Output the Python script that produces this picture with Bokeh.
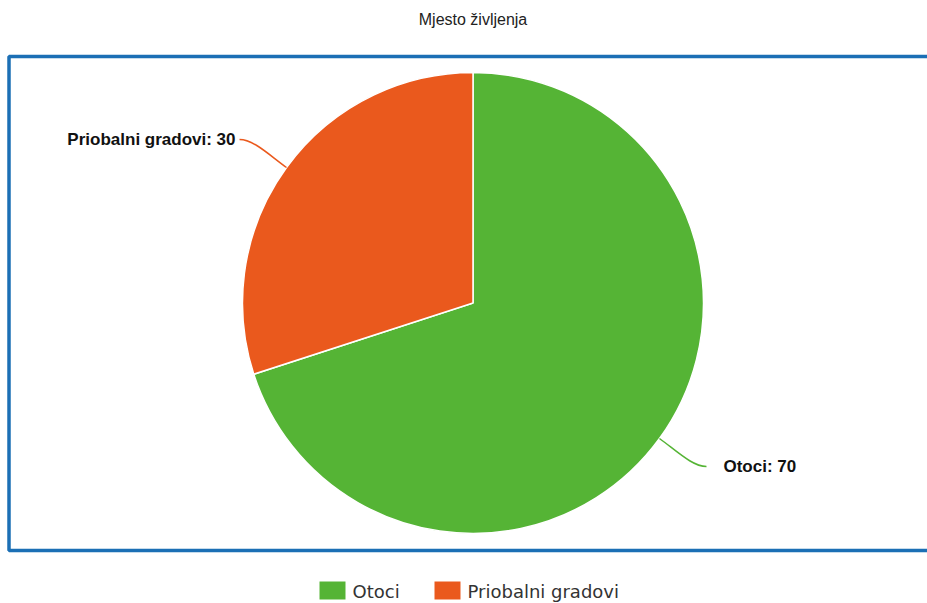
import math
from bokeh.plotting import figure
from bokeh.models import Range1d
from bokeh.core.properties import value
from bokeh.embed import file_html
from bokeh.resources import INLINE

# ---- data ----
title_text = "Mjesto življenja"
categories = ["Otoci", "Priobalni gradovi"]
values = [70, 30]
colors = ["#55b435", "#ea591d"]

# ---- layout (page pixel coordinates; data y = -screen y) ----
W, H = 927, 603
OX, OY = 0, 0
TB = 7  # baseline correction (px)
p = figure(width=W, height=H, output_backend="svg", toolbar_location=None,
           x_range=Range1d(OX, OX + W), y_range=Range1d(-(OY + H), -OY),
           min_border=0, min_border_left=0, min_border_right=0,
           min_border_top=0, min_border_bottom=0)
p.axis.visible = False
p.grid.visible = False
p.outline_line_color = None
p.background_fill_color = "white"
p.border_fill_color = "white"

# frame box
p.quad(left=8.5, right=1000, top=-56, bottom=-550, fill_color=None,
       line_color="#1b6fb5", line_width=3.5)

# title
p.text(x=[472.5], y=[-26 + TB], text=[title_text], text_align="center",
       text_baseline="alphabetic", text_font=value("Liberation Sans"),
       text_font_size="16px", text_color="#222222")

# pie
cx, cy, r = 472.5, -302.5, 230.5
total = sum(values)
start = math.pi / 2
starts, ends, mids = [], [], []
for v in values:
    end = start - 2 * math.pi * v / total
    starts.append(start)
    ends.append(end)
    mids.append((start + end) / 2)
    start = end

p.wedge(x=[cx] * len(values), y=[cy] * len(values), radius=r,
        start_angle=starts, end_angle=ends, direction="clock",
        fill_color=colors, line_color="white", line_width=1.5)

# labels with connectors
for cat, v, col, m in zip(categories, values, colors, mids):
    ux, uy = math.cos(m), math.sin(m)
    ex, ey = cx + r * ux, cy + r * uy
    sx = 1 if ux >= 0 else -1
    sy = 1 if uy >= 0 else -1
    endx, endy = ex + sx * 47, ey + sy * 28
    c0x, c0y = ex + ux * 22, ey + uy * 22
    c1x, c1y = endx - sx * 14, endy
    p.bezier(x0=[ex], y0=[ey], x1=[endx], y1=[endy], cx0=[c0x], cy0=[c0y],
             cx1=[c1x], cy1=[c1y], line_color=col, line_width=1.5)
    tx = endx + sx * 17 if sx > 0 else endx - 4
    p.text(x=[tx], y=[endy - 7 + TB], text=[f"{cat}: {v}"],
           text_align="left" if sx > 0 else "right", text_baseline="alphabetic",
           text_font=value("Liberation Sans"), text_font_style="bold",
           text_font_size="17px", text_color="#111111")

# legend
leg_x = [319, 434]
leg_y = -590
for cat, col, lx in zip(categories, colors, leg_x):
    p.quad(left=lx, right=lx + 26, top=leg_y + 9, bottom=leg_y - 9,
           fill_color=col, line_color=None)
    p.text(x=[lx + 33], y=[leg_y - 8 + TB], text=[cat], text_align="left",
           text_baseline="alphabetic", text_font=value("DejaVu Sans"),
           text_font_size="18px", text_color="#333333")

open("out.html", "w").write(file_html(p, INLINE))
